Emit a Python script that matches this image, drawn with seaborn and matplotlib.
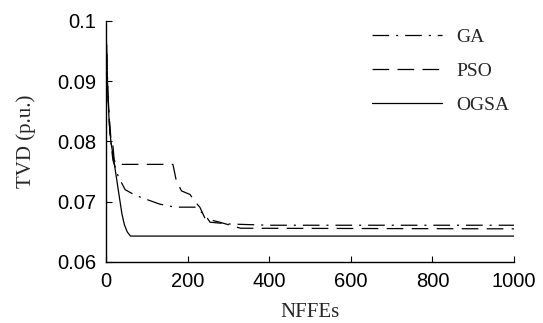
import matplotlib
matplotlib.use("Agg")
import matplotlib.pyplot as plt
import seaborn as sns

# Convergence data
nffes_ga = [0, 3, 6, 10, 17, 30, 47, 71, 103, 132, 169, 218, 243, 255, 304, 400, 1000]
tvd_ga = [0.100, 0.092, 0.086, 0.081, 0.0769, 0.0742, 0.0720, 0.0711, 0.0703,
          0.0696, 0.0691, 0.0691, 0.0678, 0.0666, 0.0663, 0.0661, 0.0661]

nffes_pso = [0, 3, 7, 12, 16, 20, 25, 164, 172, 185, 206, 218, 230, 243, 279, 330, 1000]
tvd_pso = [0.100, 0.091, 0.085, 0.0805, 0.0800, 0.0770, 0.0762, 0.0762, 0.0736,
           0.0718, 0.0712, 0.0700, 0.0691, 0.0672, 0.0666, 0.0656, 0.0655]

nffes_ogsa = [0, 3, 8, 12, 20, 30, 39, 45, 52, 60, 1000]
tvd_ogsa = [0.100, 0.090, 0.083, 0.080, 0.0765, 0.072, 0.068, 0.0662, 0.0650,
            0.0643, 0.0643]

x_ticks = [0, 200, 400, 600, 800, 1000]
y_ticks = [0.06, 0.07, 0.08, 0.09, 0.1]
y_ticklabels = ["0.06", "0.07", "0.08", "0.09", "0.1"]

sns.set_style("ticks")
plt.rcParams["lines.scale_dashes"] = False
plt.rcParams["font.family"] = ["Liberation Sans", "DejaVu Sans"]

fig = plt.figure(figsize=(5.43, 3.23), dpi=100)
ax = fig.add_axes([0.1952, 0.1889, 0.7514, 0.7461])

sns.lineplot(x=nffes_ga, y=tvd_ga, ax=ax, color="black", lw=0.9,
             linestyle=(0, (12, 5, 1.5, 5)), label="GA", sort=False, estimator=None)
sns.lineplot(x=nffes_pso, y=tvd_pso, ax=ax, color="black", lw=0.9,
             linestyle=(0, (12, 6)), label="PSO", sort=False, estimator=None)
sns.lineplot(x=nffes_ogsa, y=tvd_ogsa, ax=ax, color="black", lw=0.9,
             linestyle="-", label="OGSA", sort=False, estimator=None)

ax.set_xlim(0, 1000)
ax.set_ylim(0.06, 0.1)
ax.set_xticks(x_ticks)
ax.set_yticks(y_ticks)
ax.set_yticklabels(y_ticklabels)
ax.tick_params(direction="in", length=4, width=0.8, labelsize=14.5, pad=7,
               colors="black")
for side in ["top", "right"]:
    ax.spines[side].set_visible(False)
for side in ["left", "bottom"]:
    ax.spines[side].set_color("black")
    ax.spines[side].set_linewidth(1.0)

serif = ["Liberation Serif", "DejaVu Serif"]
ax.set_xlabel("NFFEs", fontsize=15, family=serif, labelpad=9)
ax.set_ylabel("TVD (p.u.)", fontsize=15, family=serif, labelpad=15)

leg = ax.legend(loc="upper left", bbox_to_anchor=(372 / 543, 1 - 28 / 323),
                bbox_transform=fig.transFigure, frameon=False, borderpad=0,
                borderaxespad=0, handlelength=3.6, handletextpad=0.75,
                labelspacing=0.85, prop={"family": serif, "size": 14})

fig.savefig("out.png", dpi=100)
